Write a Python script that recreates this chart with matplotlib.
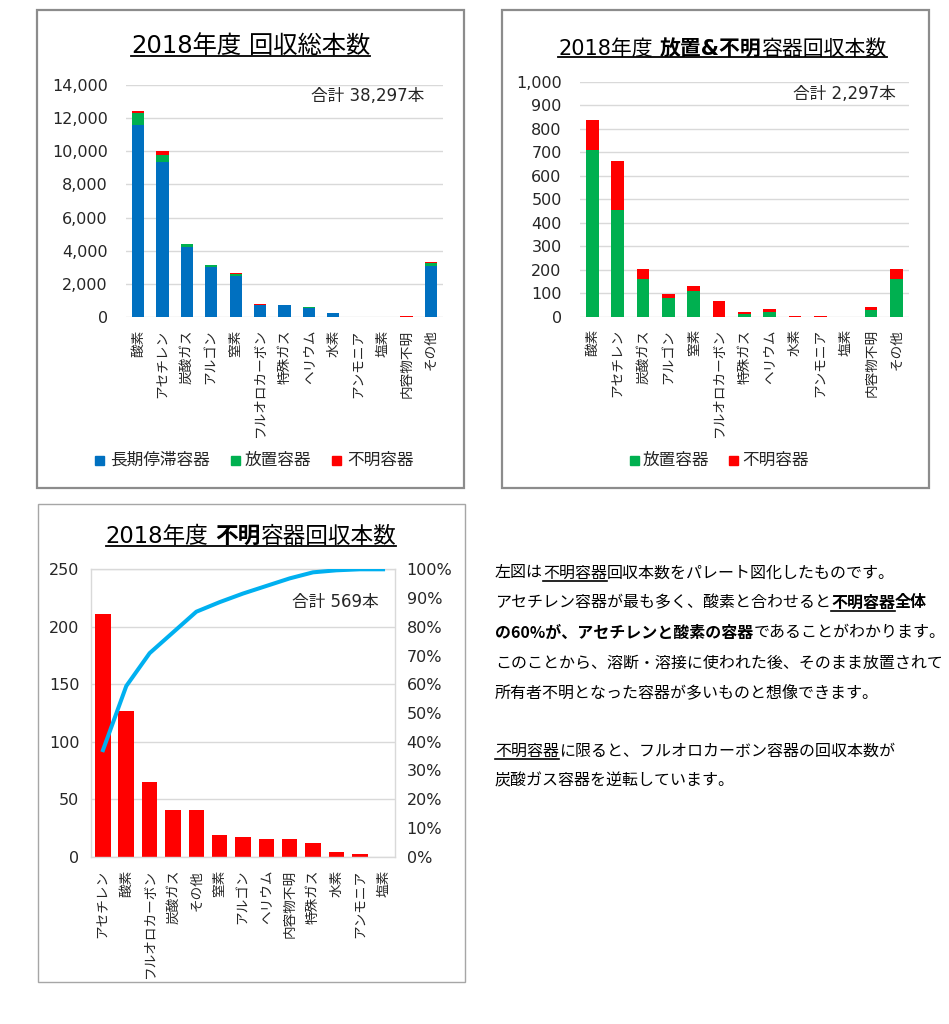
import matplotlib
matplotlib.use('Agg')
import matplotlib.pyplot as plt
from matplotlib.patches import Rectangle
from matplotlib.lines import Line2D
from matplotlib.ticker import FuncFormatter, MultipleLocator
from matplotlib.transforms import IdentityTransform
import numpy as np

plt.rcParams['font.family'] = ['DejaVu Sans', 'Noto Sans CJK JP']

# ---------------- data ----------------
categories = ['酸素', 'アセチレン', '炭酸ガス', 'アルゴン', '窒素', 'フルオロカーボン',
              '特殊ガス', 'ヘリウム', '水素', 'アンモニア', '塩素', '内容物不明', 'その他']
long_term = [11590, 9330, 4230, 3040, 2500, 700, 710, 560, 220, 20, 0, 0, 3100]
abandoned = [708, 452, 162, 78, 110, 0, 10, 19, 0, 0, 0, 27, 162]
unknown = [127, 211, 41, 17, 19, 65, 12, 15, 4, 2, 0, 15, 41]
series_names = ['長期停滞容器', '放置容器', '不明容器']

title1 = [('2018年度', False), (' ', False), ('回収総本数', False)]
title2 = [('2018年度', False), (' ', False), ('放置&不明', True), ('容器回収本数', False)]
title3 = [('2018年度', False), (' ', False), ('不明', True), ('容器回収本数', False)]

# paragraph: list of lines, each a list of (text, bold, underline)
paragraph = [
    [('左図は', False, False), ('不明容器', False, True), ('回収本数をパレート図化したものです。', False, False)],
    [('アセチレン容器が最も多く、酸素と合わせると', False, False), ('不明容器', True, True), ('全体', True, False)],
    [('の60%が、アセチレンと酸素の容器', True, False), ('であることがわかります。', False, False)],
    [('このことから、溶断・溶接に使われた後、そのまま放置されて', False, False)],
    [('所有者不明となった容器が多いものと想像できます。', False, False)],
    [],
    [('不明容器', False, True), ('に限ると、フルオロカーボン容器の回収本数が', False, False)],
    [('炭酸ガス容器を逆転しています。', False, False)],
]

# ---------------- setup ----------------
W, H = 949, 1024
fig = plt.figure(figsize=(W / 100, H / 100), dpi=100)
renderer = fig.canvas.get_renderer()
ID = IdentityTransform()

BLUE = '#0070C0'; GREEN = '#00B050'; RED = '#FF0000'; CYAN = '#00B0F0'
GRID = '#D9D9D9'; TXT = '#262626'
TICK = 11.5
CAT = 9.8


def rect(l, t, r, b):
    return [l / W, 1 - b / H, (r - l) / W, (b - t) / H]


def box(l, t, r, b, color, lw):
    fig.patches.append(Rectangle((l / W, 1 - b / H), (r - l) / W, (b - t) / H,
                                 transform=fig.transFigure, fill=False,
                                 ec=color, lw=lw, zorder=0))


def draw_runs(x, ybase, parts, size, align='left', color='black', family=None):
    """parts: (text, bold, underline). ybase in top-down pixels."""
    yb = H - ybase
    sp = size * 100 / 72
    items = []
    cx = x
    for p in parts:
        s, b = p[0], p[1]
        u = p[2] if len(p) > 2 else False
        if s == ' ':
            cx += 0.32 * sp
            continue
        kw = {} if family is None else {'family': family}
        t = fig.text(cx, yb, s, transform=ID, fontsize=size,
                     fontweight='bold' if b else 'normal', va='baseline', ha='left',
                     color=color, **kw)
        bb = t.get_window_extent(renderer)
        items.append((t, bb, u))
        cx = bb.x1
    total = cx - x
    shift = -total / 2 if align == 'center' else 0
    lines = []
    for t, bb, u in items:
        t.set_x(t.get_position()[0] + shift)
        if u:
            lines.append((bb.x0 + shift, bb.x1 + shift))
    return lines, (x + shift, x + shift + total)


def underline(x0, x1, ybase, gap, lw=1.3):
    y = H - ybase - gap
    fig.add_artist(Line2D([x0, x1], [y, y], transform=ID, color='black', lw=lw))


def title(cx, ybase, parts, size, gap):
    _, (x0, x1) = draw_runs(cx, ybase, [(s, b, False) for s, b in parts], size, align='center')
    underline(x0, x1, ybase, gap)


def legend(items, yc, size=12):
    for sx, tx, label, col in items:
        fig.patches.append(Rectangle((sx, H - yc - 4.5), 9, 9, transform=ID, color=col))
        fig.text(tx, H - yc, label, transform=ID, fontsize=size, va='center', ha='left', color=TXT)


def style(ax, ymax, step, fmt, ypad, xpad):
    ax.set_ylim(0, ymax)
    ax.yaxis.set_major_locator(MultipleLocator(step))
    ax.yaxis.set_major_formatter(FuncFormatter(fmt))
    ax.grid(axis='y', color=GRID, lw=1)
    ax.set_axisbelow(True)
    for s in ax.spines.values():
        s.set_visible(False)
    ax.tick_params(axis='both', length=0, labelsize=TICK, labelcolor=TXT)
    ax.tick_params(axis='y', pad=ypad)
    ax.tick_params(axis='x', pad=xpad)


comma = lambda v, p: f'{int(v):,}'
x = np.arange(len(categories))

# ---------------- panel boxes ----------------
box(37, 10, 464, 488, '#8C8C8C', 1.6)
box(502, 10, 929, 488, '#8C8C8C', 1.6)
box(38, 504, 465, 982, '#A6A6A6', 1.0)

# ---------------- chart 1 ----------------
ax1 = fig.add_axes(rect(125.8, 85, 443, 317))
lt = np.array(long_term); ab = np.array(abandoned); un = np.array(unknown)
ax1.bar(x, lt, 0.5, color=BLUE, label=series_names[0])
ax1.bar(x, ab, 0.5, bottom=lt, color=GREEN, label=series_names[1])
ax1.bar(x, un, 0.5, bottom=lt + ab, color=RED, label=series_names[2])
ax1.set_xlim(-0.5, len(categories) - 0.5)
style(ax1, 14000, 2000, comma, 13, 9.0)
ax1.set_xticks(x)
ax1.set_xticklabels(categories, rotation=90, fontsize=CAT, color=TXT)
total1 = int(lt.sum() + ab.sum() + un.sum())
fig.text(424, H - 96, f'合計 {total1:,}本', transform=ID, fontsize=12, ha='right', va='center', color=TXT)
title(250.5, 53, title1, 17.5, 2.8)
legend([(95, 110, series_names[0], BLUE), (231, 245, series_names[1], GREEN),
        (332, 347, series_names[2], RED)], 460)

# ---------------- chart 2 ----------------
ax2 = fig.add_axes(rect(579.8, 81.7, 909, 316.7))
ax2.bar(x, ab, 0.5, color=GREEN, label=series_names[1])
ax2.bar(x, un, 0.5, bottom=ab, color=RED, label=series_names[2])
ax2.set_xlim(-0.5, len(categories) - 0.5)
style(ax2, 1000, 100, comma, 13, 9.0)
ax2.set_xticks(x)
ax2.set_xticklabels(categories, rotation=90, fontsize=CAT, color=TXT)
total2 = int(ab.sum() + un.sum())
fig.text(896, H - 94, f'合計 {total2:,}本', transform=ID, fontsize=12, ha='right', va='center', color=TXT)
title(722.5, 55, title2, 15, 2.0)
legend([(630, 643, series_names[1], GREEN), (729, 742, series_names[2], RED)], 460)

# ---------------- chart 3 (pareto) ----------------
order = sorted(range(len(categories)), key=lambda i: -unknown[i])
pareto_cats = [categories[i] for i in order]
pareto_vals = np.array([unknown[i] for i in order])
cum = np.cumsum(pareto_vals) / pareto_vals.sum()
xp = np.arange(len(pareto_cats))

ax3 = fig.add_axes(rect(91.3, 569.3, 394.7, 856.7))
ax3.bar(xp, pareto_vals, 0.67, color=RED)
ax3.set_xlim(-0.5, len(pareto_cats) - 0.5)
style(ax3, 250, 50, comma, 8.6, 9.5)
for s in ax3.spines.values():
    s.set_visible(True)
    s.set_color(GRID)
    s.set_linewidth(1)
ax3.set_xticks(xp)
ax3.set_xticklabels(pareto_cats, rotation=90, fontsize=CAT, color=TXT)
ax3b = ax3.twinx()
ax3b.plot(xp, cum, color=CYAN, lw=2.9, solid_joinstyle='round')
ax3b.set_ylim(0, 1)
ax3b.yaxis.set_major_locator(MultipleLocator(0.1))
ax3b.yaxis.set_major_formatter(FuncFormatter(lambda v, p: f'{v * 100:.0f}%'))
for s in ax3b.spines.values():
    s.set_visible(False)
ax3b.tick_params(length=0, labelsize=TICK, labelcolor=TXT, pad=8.6)
fig.text(379, H - 602, f'合計 {int(pareto_vals.sum())}本', transform=ID, fontsize=12,
         ha='right', va='center', color=TXT)
title(251, 542.7, title3, 16.3, 2.8)

# ---------------- paragraph ----------------
y0 = 577.5
for i, line in enumerate(paragraph):
    if not line:
        continue
    yb = y0 + 30 * i - (2 if i >= 6 else 0)
    uls, _ = draw_runs(495, yb, line, 11.5, color='black', family=['Noto Sans CJK JP'])
    for a, b in uls:
        underline(a, b, yb, 3.0, lw=1.2)

fig.savefig('out.png', dpi=100)
